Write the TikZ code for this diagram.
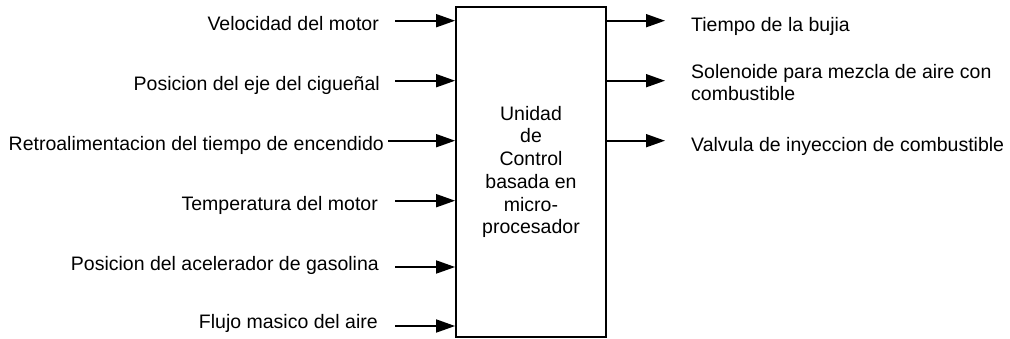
\documentclass[tikz,border=0pt]{standalone}
\usepackage{fontspec}
\setmainfont{Liberation Sans}
\usetikzlibrary{arrows.meta}
\begin{document}
\begin{tikzpicture}[x=1pt,y=-1pt,
  lbl/.style={font=\fontsize{19.5}{22.4}\selectfont, inner sep=0pt},
  arr/.style={line width=1.7pt, -{Triangle[length=19pt,width=13pt]}},
  ecubox/.style={draw, line width=1.8pt, minimum width=150pt, minimum height=330pt,
    inner sep=0pt, align=center, font=\fontsize{19.5}{22.7}\selectfont}]
\useasboundingbox (0,0) rectangle (1010,338);
\node[ecubox] (ecu) at (531,172) {Unidad\\de\\Control\\basada en\\micro-\\procesador};
% inputs
\node[lbl, anchor=base east] (i1) at (379,30.7) {Velocidad del motor};
\node[lbl, anchor=base east] (i2) at (380,90.7) {Posicion del eje del cigueñal};
\node[lbl, anchor=base east] (i3) at (384,150.7) {Retroalimentacion del tiempo de encendido};
\node[lbl, anchor=base east] (i4) at (378,210.7) {Temperatura del motor};
\node[lbl, anchor=base east] (i5) at (379,270) {Posicion del acelerador de gasolina};
\node[lbl, anchor=base east] (i6) at (378,328.5) {Flujo masico del aire};
\coordinate (s1) at (395,20.7);
\coordinate (s2) at (395,80.7);
\coordinate (s3) at (388,140.7);
\coordinate (s4) at (395,200.7);
\coordinate (s5) at (395,267);
\coordinate (s6) at (395,326);
\foreach \k in {1,...,6}{\draw[arr] (s\k) -- (s\k -| ecu.west);}
% outputs
\coordinate (e1) at (665,20.7);
\coordinate (e2) at (665,80.7);
\coordinate (e3) at (665,140.7);
\foreach \k in {1,2,3}{\draw[arr] (e\k -| ecu.east) -- (e\k);}
\node[lbl, anchor=base west] (o1) at (691,31) {Tiempo de la bujia};
\node[lbl, anchor=base west, align=left] (o2) at (691,100.5) {Solenoide para mezcla de aire con\\combustible};
\node[lbl, anchor=base west] (o3) at (691,151) {Valvula de inyeccion de combustible};
\end{tikzpicture}
\end{document}
